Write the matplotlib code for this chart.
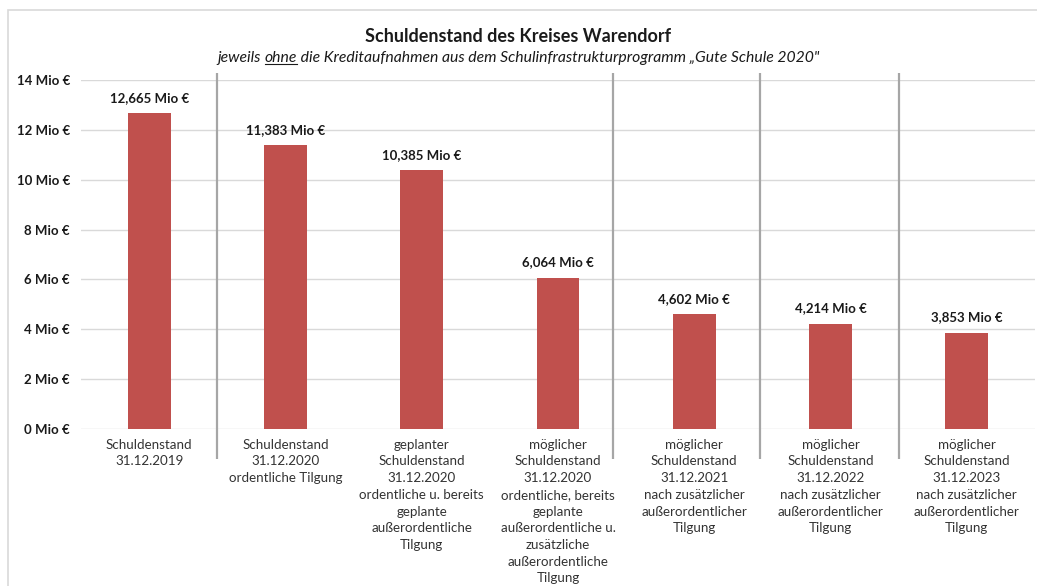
import matplotlib.pyplot as plt
from matplotlib.patches import Rectangle

plt.rcParams['font.family'] = ['Lato', 'DejaVu Sans']

# Daten
kategorien = [
    "Schuldenstand\n31.12.2019",
    "Schuldenstand\n31.12.2020\nordentliche Tilgung",
    "geplanter\nSchuldenstand\n31.12.2020\nordentliche u. bereits\ngeplante\naußerordentliche\nTilgung",
    "möglicher\nSchuldenstand\n31.12.2020\nordentliche, bereits\ngeplante\naußerordentliche u.\nzusätzliche\naußerordentliche\nTilgung",
    "möglicher\nSchuldenstand\n31.12.2021\nnach zusätzlicher\naußerordentlicher\nTilgung",
    "möglicher\nSchuldenstand\n31.12.2022\nnach zusätzlicher\naußerordentlicher\nTilgung",
    "möglicher\nSchuldenstand\n31.12.2023\nnach zusätzlicher\naußerordentlicher\nTilgung",
]
schulden = [12.665, 11.383, 10.385, 6.064, 4.602, 4.214, 3.853]
trennlinien = [0.5, 3.4, 4.48, 5.5]
y_ticks = [0, 2, 4, 6, 8, 10, 12, 14]

fig = plt.figure(figsize=(10.37, 5.86), dpi=100)
ax = fig.add_axes([81 / 1037, 1 - 429 / 586, (1035 - 81) / 1037, (429 - 80) / 586])

x = list(range(len(schulden)))
ax.bar(x, schulden, width=0.315, color='#C0504D', zorder=3)

for xi, v in zip(x, schulden):
    label = f"{v:.3f}".replace('.', ',') + " Mio €"
    ax.text(xi, v + 0.38, label, ha='center', va='bottom', fontsize=9.5,
            fontweight='bold', color='#1a1a1a')

ax.set_xlim(-0.5, len(schulden) - 0.5)
ax.set_ylim(0, 14)
ax.set_yticks(y_ticks)
ax.set_yticklabels([f"{t} Mio €" for t in y_ticks], fontsize=9.5, fontweight='bold',
                   color='#1a1a1a')
ax.set_xticks(x)
ax.set_xticklabels(kategorien, fontsize=9.6, color='#333333', linespacing=1.47,
                   va='top')
ax.tick_params(axis='both', length=0)
ax.tick_params(axis='y', pad=8)
ax.tick_params(axis='x', pad=7)
ax.grid(axis='y', color='#D9D9D9', linewidth=1, zorder=0)
for s in ax.spines.values():
    s.set_visible(False)

# senkrechte Trennlinien
ax.vlines(trennlinien, -1.2, 14.28, color='#A6A6A6', linewidth=1.6,
          clip_on=False, zorder=2)

# Rahmen
fig.patches.append(Rectangle((8 / 1037, -0.1), 1.2, 1.1 - 10 / 586,
                             transform=fig.transFigure, fill=False,
                             edgecolor='#D9D9D9', linewidth=1.2))

fig.text(0.5, 1 - 36 / 586, "Schuldenstand des Kreises Warendorf", ha='center',
         va='center', fontsize=13, fontweight='bold', color='#1a1a1a')

# Untertitel mit unterstrichenem "ohne"
teile = ["jeweils ", "ohne", " die Kreditaufnahmen aus dem Schulinfrastrukturprogramm „Gute Schule 2020\""]
y_sub = 1 - 58 / 586
fig.canvas.draw()
renderer = fig.canvas.get_renderer()
texte = [fig.text(0, y_sub, t, ha='left', va='center', fontsize=11.3,
                  style='italic', color='#1a1a1a') for t in teile]
breiten = [t.get_window_extent(renderer).width for t in texte]
gesamt = sum(breiten)
start = 1037 / 2 - gesamt / 2
pos = start
for t, b in zip(texte, breiten):
    t.set_x(pos / 1037)
    pos += b
u0 = (start + breiten[0]) / 1037
u1 = (start + breiten[0] + breiten[1]) / 1037
bb = texte[1].get_window_extent(renderer)
uy = (bb.y0 + 1) / 586
fig.add_artist(plt.Line2D([u0, u1], [uy, uy], transform=fig.transFigure,
                          color='#1a1a1a', linewidth=0.8))

fig.savefig('out.png', dpi=100)
